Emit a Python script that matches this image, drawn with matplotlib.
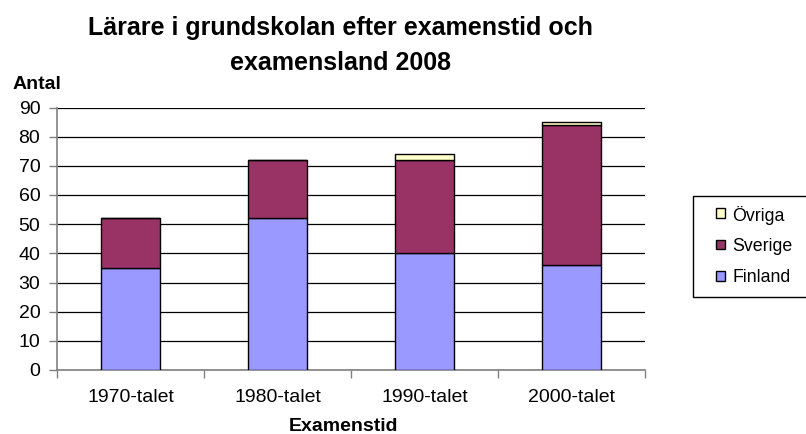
import matplotlib
matplotlib.use("Agg")
import matplotlib.pyplot as plt
from matplotlib.patches import Rectangle
import numpy as np

categories = ["1970-talet", "1980-talet", "1990-talet", "2000-talet"]
finland = [35, 52, 40, 36]
sverige = [17, 20, 32, 48]
ovriga = [0, 0, 2, 1]
yticks = [0, 10, 20, 30, 40, 50, 60, 70, 80, 90]
series_names = ["Finland", "Sverige", "Övriga"]
series_colors = ["#9999FF", "#993366", "#FFFFCC"]

plt.rcParams['font.family'] = ['Liberation Sans', 'DejaVu Sans']

W, H = 806, 434
fig = plt.figure(figsize=(W / 100, H / 100), dpi=100)
ax = fig.add_axes([57 / W, 1 - 370 / H, (645 - 57) / W, (370 - 107.5) / H])

x = np.arange(len(categories))
bw = 0.4
bottom = np.zeros(len(categories))
for name, vals, col in zip(series_names, [finland, sverige, ovriga], series_colors):
    v = np.array(vals, dtype=float)
    ax.bar(x, v, bw, bottom=bottom, color=col, edgecolor='black', linewidth=1.0,
           label=name, zorder=3)
    bottom = bottom + v

ax.set_xlim(-0.5, len(categories) - 0.5)
ax.set_ylim(0, 90)
ax.set_yticks(yticks)
ax.set_yticklabels([str(v) for v in yticks])
ax.yaxis.grid(True, color='black', linewidth=0.9, zorder=0)
ax.set_axisbelow(True)

ax.set_xticks(x)
ax.set_xticklabels(categories)
ax.set_xticks(np.arange(len(categories) + 1) - 0.5, minor=True)
ax.tick_params(axis='x', which='major', length=0, pad=14, labelsize=14)
ax.tick_params(axis='x', which='minor', length=6, width=1, color='#808080', direction='out')
ax.tick_params(axis='y', length=6, width=1, color='#808080', pad=6, labelsize=14)

for s in ['top', 'right']:
    ax.spines[s].set_visible(False)
for s in ['left', 'bottom']:
    ax.spines[s].set_color('#808080')
    ax.spines[s].set_linewidth(1.2)

fig.text(340.5 / W, 1 - 35 / H, "Lärare i grundskolan efter examenstid och",
         ha='center', va='baseline', fontsize=18, fontweight='bold')
fig.text(340.5 / W, 1 - 70 / H, "examensland 2008",
         ha='center', va='baseline', fontsize=18, fontweight='bold')
fig.text(13 / W, 1 - 89 / H, "Antal", ha='left', va='baseline', fontsize=14, fontweight='bold')
fig.text(344 / W, 1 - 431 / H, "Examenstid", ha='center', va='baseline', fontsize=14, fontweight='bold')

# Legend (drawn in figure pixel coordinates, reversed order like the reference)
def fx(px):
    return px / W

def fy(py):
    return 1 - py / H

fig.patches.append(Rectangle((fx(693), fy(297)), fx(830) - fx(693), fy(196) - fy(297),
                             transform=fig.transFigure, facecolor='white',
                             edgecolor='black', linewidth=1.0, clip_on=False))
rows_y = [213, 244.5, 276]
sq = 9.5
for name, col, yc in zip(series_names[::-1], series_colors[::-1], rows_y):
    fig.patches.append(Rectangle((fx(715.5), fy(yc + sq / 2)), fx(sq), sq / H,
                                 transform=fig.transFigure, facecolor=col,
                                 edgecolor='black', linewidth=1.0))
    fig.text(fx(732), fy(yc), name, ha='left', va='center_baseline', fontsize=12.8)

fig.savefig('out.png', dpi=100)
